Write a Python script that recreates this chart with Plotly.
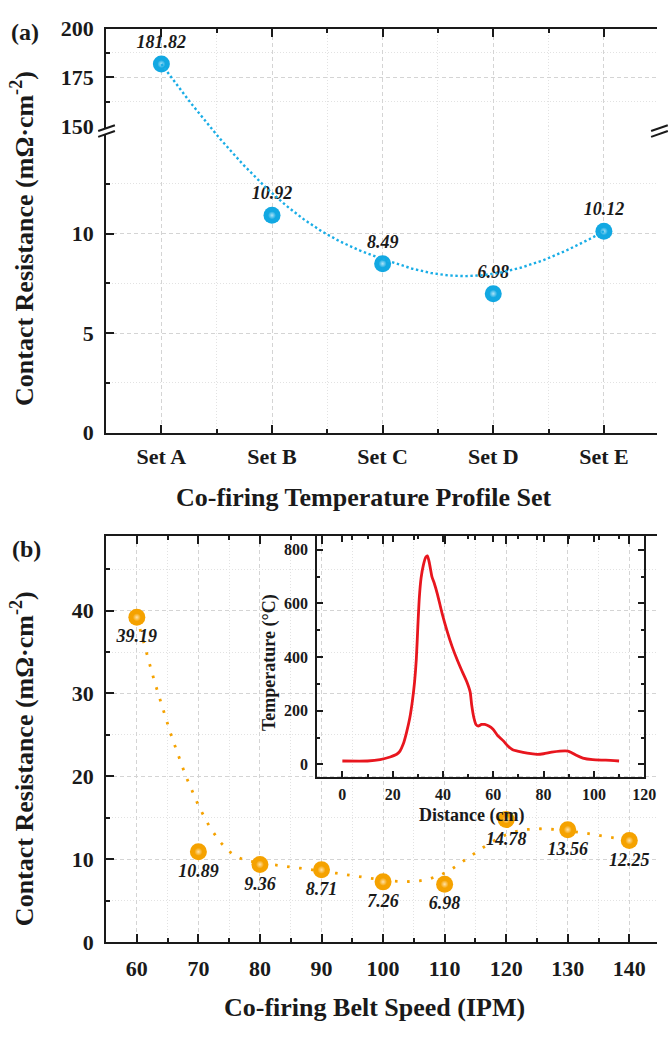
import numpy as np
import plotly.graph_objects as go

# ---------------- data ----------------
profile_sets = ["Set A", "Set B", "Set C", "Set D", "Set E"]
resistance_a = [181.82, 10.92, 8.49, 6.98, 10.12]

belt_speed = [60, 70, 80, 90, 100, 110, 120, 130, 140]
resistance_b = [39.19, 10.89, 9.36, 8.71, 7.26, 6.98, 14.78, 13.56, 12.25]

distance_cm = [0, 10, 15, 19, 21.6, 22.9, 24.2, 25.5, 26.8, 27.8, 28.7, 29.4, 30, 30.6,
               31.3, 32.2, 33.2, 33.8, 34.5, 35.6, 36.5, 37.8, 39.7, 41.7, 43.6, 45.6,
               47.5, 49.5, 50.8, 51.4, 52.3, 53.1, 54, 55.3, 56.6, 58.2, 59.9, 61.8, 64,
               65.7, 67.7, 69.6, 73.5, 77.4, 80, 83.2, 86.5, 89.7, 91, 93, 95.6, 99.5,
               104.7, 110]
temperature_c = [13, 13, 18, 28, 38, 50, 76, 119, 173, 234, 307, 392, 513, 622,
                 695, 743, 773, 777, 755, 700, 676, 634, 561, 495, 440, 391,
                 349, 307, 270, 222, 173, 149, 143, 149, 149, 143, 131, 107, 88,
                 70, 55, 50, 42, 38, 40, 46, 50, 50, 45, 34, 24, 18,
                 16, 13]

# axis tick values
low_ticks = [0, 5, 10]
low_minor = [2.5, 7.5, 12.5]

# ---------------- style ----------------
FONT = "Liberation Serif, Times New Roman, serif"
INK = "#1a1a1a"
GRID = "#d4d4d4"
GRID_MINOR = "#e2e2e2"
BLUE = "#12A8E2"
BLUE_LINE = "#19ADE6"
ORANGE = "#F5A200"
RED = "#E8161E"

W, H = 669, 1037


def fx(p):
    return p / W


def fy(p):
    return 1 - p / H


# layout in pixels
PLOT_L, PLOT_R = 108, 669
A_TOP, A_BREAK, A_BOT = 17, 117, 431
B_TOP, B_BOT = 537, 953
IN_L, IN_R, IN_T, IN_B = 323, 656, 537, 784

LOW_TOP = 15.4
UP_MIN, UP_MAX = 150, 200

ya0, ya1, ya2 = fy(A_BOT), fy(A_BREAK), fy(A_TOP)
scale_up = ((ya2 - ya1) / (UP_MAX - UP_MIN)) / ((ya1 - ya0) / LOW_TOP)


def to_visual(v):
    return v if v <= LOW_TOP else LOW_TOP + (v - UP_MIN) * scale_up


def bspline(px, py, degree=3, samples=400):
    px = np.asarray(px, float)
    py = np.asarray(py, float)
    n = len(px)
    k = min(degree, n - 1)
    n_inner = n - k - 1
    knots = np.concatenate([np.zeros(k), np.arange(n_inner + 2), np.full(k, n_inner + 1)]).astype(float)
    t = np.linspace(0, n_inner + 1, samples)
    N = np.zeros((samples, len(knots) - 1))
    for i in range(len(knots) - 1):
        N[:, i] = ((knots[i] <= t) & (t < knots[i + 1])).astype(float)
    last = np.max(np.nonzero(knots[:-1] < knots[1:])[0])
    N[t >= knots[-1], last] = 1.0
    for d in range(1, k + 1):
        Nn = np.zeros((samples, len(knots) - 1 - d))
        for i in range(len(knots) - 1 - d):
            a = knots[i + d] - knots[i]
            b = knots[i + d + 1] - knots[i + 1]
            term = np.zeros(samples)
            if a > 0:
                term += (t - knots[i]) / a * N[:, i]
            if b > 0:
                term += (knots[i + d + 1] - t) / b * N[:, i + 1]
            Nn[:, i] = term
        N = Nn
    return N @ px, N @ py


fig = go.Figure()

# ---------------- panel (a) ----------------
xa = list(range(len(profile_sets)))
cx, cy = bspline(xa, [to_visual(v) for v in resistance_a])
fig.add_trace(go.Scatter(x=cx, y=cy, mode="lines", xaxis="x3", yaxis="y3",
                         line=dict(color=BLUE_LINE, width=2.4, dash="2.4px,2.6px"),
                         hoverinfo="skip"))

up_idx = [i for i, v in enumerate(resistance_a) if v >= UP_MIN]
lo_idx = [i for i, v in enumerate(resistance_a) if v < UP_MIN]
label_font = dict(family=FONT, size=18, color=INK, weight="bold", style="italic")
for idx, yax, xax in ((up_idx, "y2", "x2"), (lo_idx, "y", "x")):
    xs = [xa[i] for i in idx]
    ys = [resistance_a[i] for i in idx]
    fig.add_trace(go.Scatter(x=xs, y=ys, mode="markers+text", xaxis=xax, yaxis=yax,
                             text=[f"{v:.2f}" for v in ys], textposition="top center",
                             textfont=label_font, cliponaxis=False,
                             marker=dict(size=17, color=BLUE, line=dict(width=0))))
    fig.add_trace(go.Scatter(x=xs, y=ys, mode="markers", xaxis=xax, yaxis=yax, cliponaxis=False,
                             marker=dict(size=8, color=BLUE, line=dict(width=0),
                                         gradient=dict(type="radial", color="#aee4f8"))))

# ---------------- panel (b) ----------------
bx, by = bspline(belt_speed, resistance_b)
fig.add_trace(go.Scatter(x=bx, y=by, mode="lines", xaxis="x4", yaxis="y4",
                         line=dict(color=ORANGE, width=2.8, dash="2.6px,9.5px"),
                         hoverinfo="skip"))
fig.add_trace(go.Scatter(x=belt_speed, y=resistance_b, mode="markers+text", xaxis="x4", yaxis="y4",
                         text=[f"{v:.2f}" for v in resistance_b], textposition="bottom center",
                         textfont=label_font, cliponaxis=False,
                         marker=dict(size=17, color=ORANGE, line=dict(width=0))))
fig.add_trace(go.Scatter(x=belt_speed, y=resistance_b, mode="markers", xaxis="x4", yaxis="y4",
                         cliponaxis=False,
                         marker=dict(size=8, color=ORANGE, line=dict(width=0),
                                     gradient=dict(type="radial", color="#ffe2a8"))))

# inset
fig.add_trace(go.Scatter(x=distance_cm, y=temperature_c, mode="lines", xaxis="x5", yaxis="y5",
                         line=dict(color=RED, width=2.8, shape="spline", smoothing=0.6)))

# ---------------- axes ----------------
tickfont = dict(family=FONT, size=22, color=INK, weight="bold")


def ax(**kw):
    base = dict(showline=True, linecolor=INK, linewidth=2, ticks="inside", ticklen=8,
                tickwidth=2, tickcolor=INK, tickfont=tickfont, zeroline=False,
                showgrid=True, gridcolor=GRID, gridwidth=1, griddash="4px,3px")
    base.update(kw)
    return base


def mn(dtick=None, grid=True, ticklen=4, tickvals=None):
    d = dict(ticks="inside", ticklen=ticklen, tickwidth=2, tickcolor=INK,
             showgrid=grid, gridcolor=GRID_MINOR, griddash="1px,2px", gridwidth=1)
    if tickvals is not None:
        d.update(tickmode="array", tickvals=tickvals)
    else:
        d.update(dtick=dtick)
    return d


xdom = [fx(PLOT_L), fx(PLOT_R)]
xa_range = [-0.5, 4.48]
alias = {str(i): s for i, s in enumerate(profile_sets)}
inset_font = dict(family=FONT, size=16, color=INK, weight="bold")

fig.update_layout(
    width=W, height=H, margin=dict(l=0, r=0, t=0, b=0),
    paper_bgcolor="white", plot_bgcolor="rgba(0,0,0,0)", showlegend=False,
    font=dict(family=FONT, color=INK),
    xaxis=ax(domain=xdom, anchor="y", range=xa_range, tickmode="linear", tick0=0, dtick=1,
             labelalias=alias, minor=mn(0.5), ticklabelstandoff=3),
    xaxis2=ax(domain=xdom, anchor="y2", range=xa_range, matches="x", side="top",
              tickmode="linear", tick0=0, dtick=1, showticklabels=False, minor=mn(0.5)),
    xaxis3=dict(domain=xdom, anchor="y3", range=xa_range, visible=False, matches="x"),
    yaxis=ax(domain=[ya0, ya1], anchor="x", range=[0, LOW_TOP], tickmode="array",
             tickvals=low_ticks, minor=mn(tickvals=low_minor), ticklabelstandoff=6),
    yaxis2=ax(domain=[ya1, ya2], anchor="x2", range=[UP_MIN, UP_MAX], tickmode="linear",
              tick0=UP_MIN, dtick=25, minor=mn(12.5), ticklabelstandoff=6),
    yaxis3=dict(domain=[ya0, ya2], anchor="x3", range=[0, to_visual(UP_MAX)], visible=False),
    xaxis4=ax(domain=xdom, anchor="y4", range=[55, 144.5], tickmode="linear", tick0=60,
              dtick=10, minor=mn(5), mirror="ticks", ticklabelstandoff=6),
    yaxis4=ax(domain=[fy(B_BOT), fy(B_TOP)], anchor="x4", range=[0, 49], tickmode="linear",
              tick0=0, dtick=10, minor=mn(5), ticklabelstandoff=6),
    xaxis5=ax(domain=[fx(IN_L), fx(IN_R)], anchor="y5", range=[-10, 120], tickmode="linear",
              tick0=0, dtick=20, minor=mn(10, grid=False, ticklen=3), mirror="ticks",
              showgrid=False, ticklen=6, tickfont=inset_font, ticklabelstandoff=2),
    yaxis5=ax(domain=[fy(IN_B), fy(IN_T)], anchor="x5", range=[-47, 851], tickmode="linear",
              tick0=0, dtick=200, minor=mn(100, grid=False, ticklen=3), mirror="ticks",
              showgrid=False, ticklen=6, tickfont=inset_font, ticklabelstandoff=4),
)


# ---------------- annotations ----------------
def note(text, x, y, size, angle=0, xanchor="center"):
    fig.add_annotation(text=text, x=fx(x), y=fy(y), xref="paper", yref="paper",
                       showarrow=False, textangle=angle, xanchor=xanchor, yanchor="middle",
                       font=dict(family=FONT, size=size, color=INK))


ytitle = "<b>Contact Resistance (mΩ·cm<sup>-2</sup>)</b>"
note("<b>(a)</b>", 25, 20, 24)
note("<b>(b)</b>", 27, 550, 24)
note(ytitle, 23, 232, 26, angle=-90)
note(ytitle, 23, 765, 26, angle=-90)
note("<b>Co-firing Temperature Profile Set</b>", 371, 497, 26)
note("<b>Co-firing Belt Speed (IPM)</b>", 381, 1020, 26)
note("<b>Distance (cm)</b>", 480, 823, 18)
note("<b>Temperature (°C)</b>", 275, 667, 18, angle=-90)

# ---------------- axis-break marks ----------------
for bx0 in (PLOT_L, PLOT_R + 2):
    x0, x1 = bx0 - 8, bx0 + 9
    fig.add_shape(type="path", xref="paper", yref="paper",
                  path=(f"M {fx(x0)},{fy(A_BREAK + 5)} L {fx(x1)},{fy(A_BREAK - 1)} "
                        f"L {fx(x1)},{fy(A_BREAK + 5)} L {fx(x0)},{fy(A_BREAK + 11)} Z"),
                  fillcolor="white", line=dict(width=0), layer="above")
    for off in (0, 6):
        fig.add_shape(type="line", xref="paper", yref="paper",
                      x0=fx(x0), y0=fy(A_BREAK + 5 + off), x1=fx(x1), y1=fy(A_BREAK - 1 + off),
                      line=dict(color=INK, width=2), layer="above")

fig.write_html("out.html")
